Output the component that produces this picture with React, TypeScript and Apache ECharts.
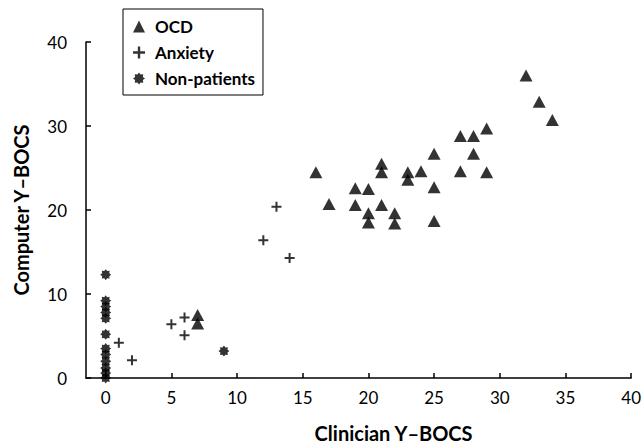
import React, { useEffect, useRef } from "react";
import * as echarts from "echarts";

const xTicks = [0, 5, 10, 15, 20, 25, 30, 35, 40];
const yTicks = [0, 10, 20, 30, 40];

const ocdX = [7, 7, 16, 17, 19, 20, 19, 20, 20, 21, 21, 21, 22, 22, 23, 23, 24, 25, 25, 25, 28, 27, 29, 32, 33, 34, 29, 27, 28];
const ocdY = [7.5, 6.5, 24.5, 20.7, 22.6, 22.5, 20.6, 19.6, 18.5, 25.5, 24.5, 20.6, 19.6, 18.4, 24.5, 23.6, 24.6, 26.7, 22.7, 18.7, 26.7, 24.6, 24.5, 36, 32.9, 30.7, 29.7, 28.8, 28.8];

const anxX = [1, 2, 5, 6, 6, 12, 13, 14];
const anxY = [4.2, 2.1, 6.4, 7.2, 5.1, 16.4, 20.4, 14.3];

const nonX = [0, 0, 0, 0, 0, 0, 0, 0, 0, 0, 0, 0, 9];
const nonY = [12.3, 9.2, 8.5, 7.8, 7.1, 5.2, 3.5, 2.8, 2.0, 1.2, 0.6, 0, 3.2];

const FONT = "Lato, 'Open Sans', sans-serif";

function starPath(n: number, rOut: number, rIn: number): string {
  const pts: string[] = [];
  for (let i = 0; i < n * 2; i++) {
    const r = i % 2 === 0 ? rOut : rIn;
    const a = (Math.PI * i) / n - Math.PI / 2;
    pts.push((10 + r * Math.cos(a)).toFixed(2) + "," + (10 + r * Math.sin(a)).toFixed(2));
  }
  return "path://M" + pts.join("L") + "Z";
}

const ASTERISK = starPath(8, 10, 7);
const PLUS = "path://M4,0H6V4H10V6H6V10H4V6H0V4H4Z";

function zip(xs: number[], ys: number[]) {
  return xs.map((x, i) => [x, ys[i]]);
}

export default function App() {
  const ref = useRef<HTMLDivElement>(null);
  useEffect(() => {
    if (!ref.current) return;
    const chart = echarts.init(ref.current, null, { renderer: "svg" });
    chart.setOption({
      animation: false,
      backgroundColor: "#fff",
      textStyle: { fontFamily: FONT, color: "#000" },
      grid: { left: 86, right: 12, top: 42, bottom: 66, containLabel: false },
      legend: {
        orient: "vertical",
        left: 123,
        top: 9,
        padding: [9, 8, 8, 10],
        itemGap: 9,
        itemWidth: 12,
        itemHeight: 12,
        borderColor: "#000",
        borderWidth: 1,
        textStyle: { fontFamily: FONT, fontWeight: "bold", fontSize: 17, color: "#000", padding: [0, 0, 0, 5] },
        data: [
          { name: "OCD", icon: "triangle" },
          { name: "Anxiety", icon: PLUS },
          { name: "Non-patients", icon: ASTERISK },
        ],
      },
      xAxis: {
        type: "value",
        min: -1.5,
        max: 40,
        name: "Clinician Y–BOCS",
        nameLocation: "middle",
        nameGap: 45,
        nameTextStyle: { fontFamily: FONT, fontWeight: "bold", fontSize: 20, color: "#000", padding: [0, 0, 0, 70] },
        axisLine: { show: true, onZero: false, lineStyle: { color: "#000", width: 1.5 } },
        axisTick: { show: true, inside: true, length: 5, lineStyle: { color: "#000", width: 1.5 }, customValues: xTicks },
        axisLabel: { color: "#000", fontSize: 17, fontFamily: FONT, margin: 11, customValues: xTicks },
        splitLine: { show: false },
      },
      yAxis: {
        type: "value",
        min: 0,
        max: 40,
        interval: 10,
        name: "Computer Y–BOCS",
        nameLocation: "middle",
        nameGap: 55,
        nameRotate: 90,
        nameTextStyle: { fontFamily: FONT, fontWeight: "bold", fontSize: 20, color: "#000" },
        axisLine: { show: true, onZero: false, lineStyle: { color: "#000", width: 1.5 } },
        axisTick: { show: true, inside: true, length: 5, lineStyle: { color: "#000", width: 1.5 }, customValues: yTicks },
        axisLabel: { color: "#000", fontSize: 17, fontFamily: FONT, margin: 19, customValues: yTicks },
        splitLine: { show: false },
      },
      series: [
        {
          name: "OCD",
          type: "scatter",
          symbol: "triangle",
          symbolSize: [13, 12],
          itemStyle: { color: "#000" },
          data: zip(ocdX, ocdY),
        },
        {
          name: "Anxiety",
          type: "scatter",
          symbol: PLUS,
          symbolSize: 10,
          itemStyle: { color: "#000" },
          data: zip(anxX, anxY),
        },
        {
          name: "Non-patients",
          type: "scatter",
          symbol: ASTERISK,
          symbolSize: 11,
          itemStyle: { color: "#000" },
          data: zip(nonX, nonY),
        },
      ],
    });
    return () => chart.dispose();
  }, []);
  return <div ref={ref} style={{ width: 644, height: 448, position: "absolute", left: 0, top: 0 }} />;
}
